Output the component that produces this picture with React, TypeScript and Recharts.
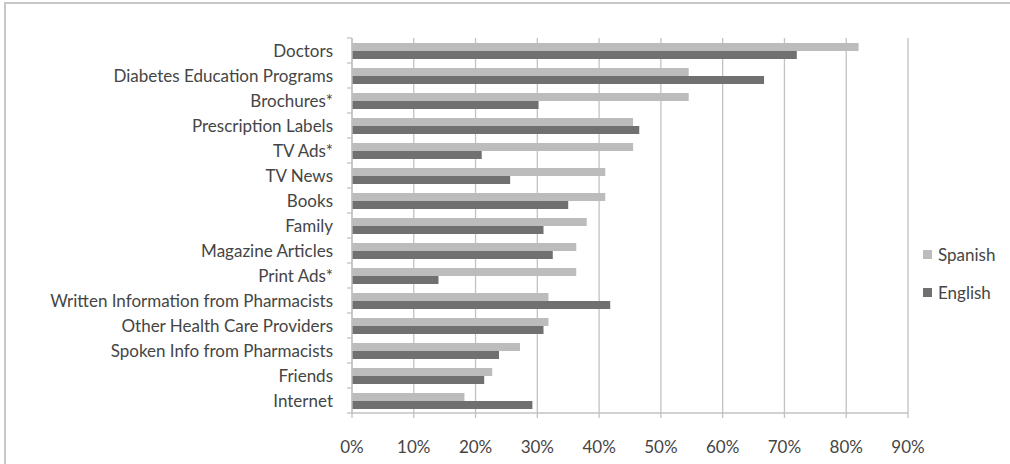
import React from "react";
import { Bar, BarChart, CartesianGrid, XAxis, YAxis } from "recharts";

const categories = [
  "Doctors",
  "Diabetes Education Programs",
  "Brochures*",
  "Prescription Labels",
  "TV Ads*",
  "TV News",
  "Books",
  "Family",
  "Magazine Articles",
  "Print Ads*",
  "Written Information from Pharmacists",
  "Other Health Care Providers",
  "Spoken Info from Pharmacists",
  "Friends",
  "Internet",
];

// percent of respondents
const spanish = [82, 54.5, 54.5, 45.5, 45.5, 41, 41, 38, 36.3, 36.3, 31.8, 31.8, 27.2, 22.7, 18.2];
const english = [72, 66.7, 30.2, 46.5, 21, 25.6, 35, 31, 32.5, 14, 41.8, 31, 23.8, 21.4, 29.2];

const seriesNames = ["Spanish", "English"];
const seriesColors = ["#bcbcbc", "#707070"];

const xTicks = [0, 10, 20, 30, 40, 50, 60, 70, 80, 90];

const W = 1010;
const H = 464;
const MARGIN = { top: 38, right: 102, left: 0, bottom: 0 };
const X_AXIS_H = 51;
const Y_AXIS_W = 352;
const BAND = (H - MARGIN.top - MARGIN.bottom - X_AXIS_H) / categories.length;

const FONT = "Lato, 'Open Sans', sans-serif";
const TEXT = "#454545";
const GRID = "#c2c2c2";

const data = categories.map((name, i) => ({
  name,
  Spanish: spanish[i],
  English: english[i],
}));

// category label + Excel-style tick mark on band boundaries
const CategoryTick = (props: any) => {
  const { x, y, payload, index } = props;
  const axisX = x + 19;
  const last = index === categories.length - 1;
  return (
    <g>
      <line x1={axisX - 5} x2={axisX} y1={y - BAND / 2} y2={y - BAND / 2} stroke={GRID} strokeWidth={1.3} />
      {last && (
        <line x1={axisX - 5} x2={axisX} y1={y + BAND / 2} y2={y + BAND / 2} stroke={GRID} strokeWidth={1.3} />
      )}
      <text x={x} y={y} dy="0.36em" textAnchor="end" fill={TEXT} fontSize={17} fontFamily={FONT}>
        {payload.value}
      </text>
    </g>
  );
};

export default function App() {
  return (
    <div style={{ position: "absolute", left: 0, top: 0, width: W, height: H, background: "#fff", overflow: "hidden" }}>
      <div
        style={{
          position: "absolute",
          left: 4,
          top: 2,
          width: W + 10,
          height: H + 10,
          borderTop: "2px solid #c8c8c8",
          borderLeft: "2px solid #c8c8c8",
          boxSizing: "border-box",
        }}
      />
      <BarChart
        width={W}
        height={H}
        data={data}
        layout="vertical"
        margin={MARGIN}
        barCategoryGap="20%"
        barGap={0}
        style={{ position: "absolute", left: 0, top: 0 }}
      >
        <CartesianGrid horizontal={false} stroke={GRID} strokeWidth={1.3} />
        <XAxis
          type="number"
          domain={[0, 90]}
          ticks={xTicks}
          tickFormatter={(v: number) => `${v}%`}
          height={X_AXIS_H}
          axisLine={{ stroke: GRID, strokeWidth: 1.3 }}
          tickLine={{ stroke: GRID, strokeWidth: 1.3 }}
          tickSize={5}
          tickMargin={23}
          tick={{ fill: TEXT, fontSize: 17, fontFamily: FONT }}
          interval={0}
        />
        <YAxis
          type="category"
          dataKey="name"
          width={Y_AXIS_W}
          axisLine={{ stroke: GRID, strokeWidth: 1.3 }}
          tickLine={false}
          tickSize={5}
          tickMargin={14}
          tick={<CategoryTick />}
          interval={0}
        />
        {seriesNames.map((s, i) => (
          <Bar key={s} dataKey={s} fill={seriesColors[i]} isAnimationActive={false} />
        ))}
      </BarChart>
      <div
        style={{
          position: "absolute",
          left: 923,
          top: 235,
          fontFamily: FONT,
          fontSize: 17,
          color: TEXT,
        }}
      >
        {seriesNames.map((s, i) => (
          <div key={s} style={{ height: 38, display: "flex", alignItems: "center" }}>
            <span style={{ width: 9, height: 9, background: seriesColors[i], marginRight: 6, display: "inline-block" }} />
            <span>{s}</span>
          </div>
        ))}
      </div>
    </div>
  );
}
